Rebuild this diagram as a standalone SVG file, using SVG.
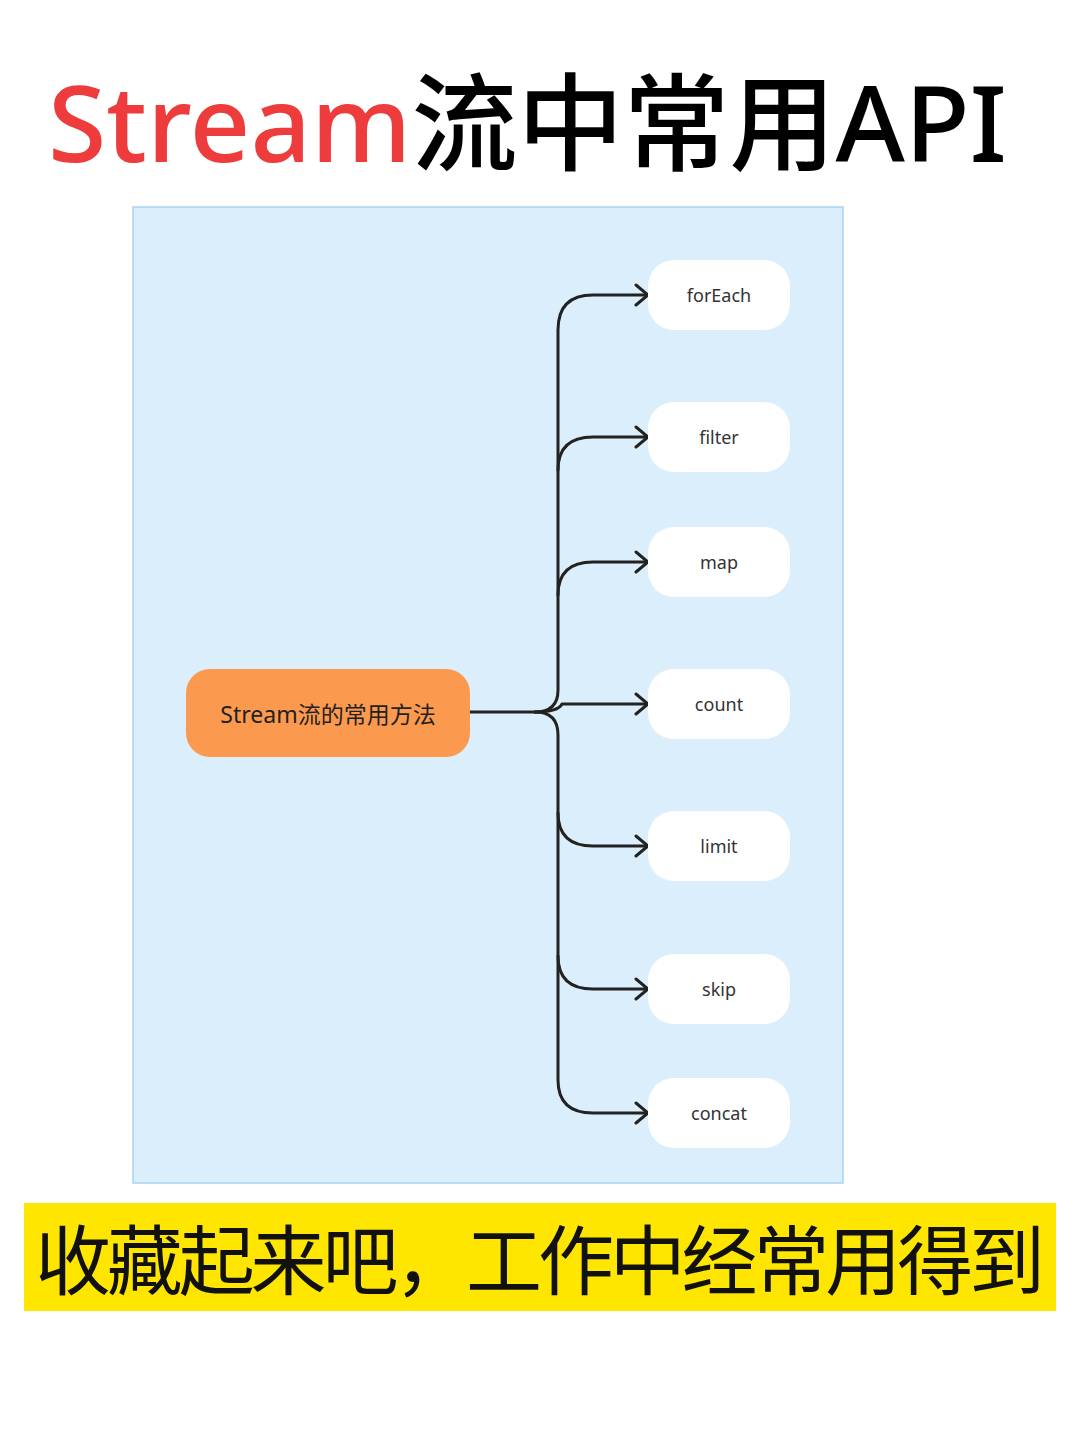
<svg xmlns="http://www.w3.org/2000/svg" width="1080" height="1443" viewBox="0 0 1080 1443">
<defs>
<style>
.n rect{fill:#fff}
.n text{font-family:"Noto Sans","Liberation Sans",sans-serif;font-size:18px;fill:#333;text-anchor:middle}
.c path{fill:none;stroke:#222;stroke-width:3;stroke-linecap:round;stroke-linejoin:round}
</style>
<marker id="a" markerWidth="16" markerHeight="24" refX="14" refY="12" orient="auto" markerUnits="userSpaceOnUse">
<path d="M2 2 L14 12 L2 22" fill="none" stroke="#222" stroke-width="3" stroke-linecap="round"/>
</marker>
</defs>
<rect width="1080" height="1443" fill="#fff"/>
<text x="48" y="162" font-family="Noto Sans,Noto Sans CJK SC,sans-serif" font-size="106" font-weight="500"><tspan fill="#ee3b3b">Stream</tspan><tspan fill="#000">流中常用API</tspan></text>
<rect x="133" y="207" width="710" height="976" fill="#dbeefb" stroke="#a9d3ef" stroke-width="1.5"/>
<g class="c">
<path d="M470 712 H535 Q558 712 558 690 V330 Q558 295 593 295 H648" marker-end="url(#a)"/>
<path d="M558 470 Q558 437 593 437 H648" marker-end="url(#a)"/>
<path d="M558 595 Q558 562 593 562 H648" marker-end="url(#a)"/>
<path d="M535 712 Q558 712 562 704 H648" marker-end="url(#a)"/>
<path d="M535 712 Q558 712 558 735 V1080 Q558 1113 593 1113 H648" marker-end="url(#a)"/>
<path d="M558 813 Q558 846 593 846 H648" marker-end="url(#a)"/>
<path d="M558 956 Q558 989 593 989 H648" marker-end="url(#a)"/>
</g>
<g id="root"><rect x="186" y="669" width="284" height="88" rx="24" fill="#fb9a4f"/>
<text x="328" y="723" font-family="Noto Sans,Noto Sans CJK SC,sans-serif" font-size="23" fill="#222" text-anchor="middle">Stream流的常用方法</text></g>
<g id="forEach" class="n"><rect x="648" y="260" width="142" height="70" rx="26"/><text x="719" y="302">forEach</text></g>
<g id="filter" class="n"><rect x="648" y="402" width="142" height="70" rx="26"/><text x="719" y="444">filter</text></g>
<g id="map" class="n"><rect x="648" y="527" width="142" height="70" rx="26"/><text x="719" y="569">map</text></g>
<g id="count" class="n"><rect x="648" y="669" width="142" height="70" rx="26"/><text x="719" y="711">count</text></g>
<g id="limit" class="n"><rect x="648" y="811" width="142" height="70" rx="26"/><text x="719" y="853">limit</text></g>
<g id="skip" class="n"><rect x="648" y="954" width="142" height="70" rx="26"/><text x="719" y="996">skip</text></g>
<g id="concat" class="n"><rect x="648" y="1078" width="142" height="70" rx="26"/><text x="719" y="1120">concat</text></g>
<rect x="24" y="1203" width="1032" height="108" fill="#ffe600"/>
<text x="540" y="1289" font-family="Noto Sans CJK SC,sans-serif" font-size="76" fill="#111" text-anchor="middle" textLength="1010">收藏起来吧，工作中经常用得到</text>
</svg>
